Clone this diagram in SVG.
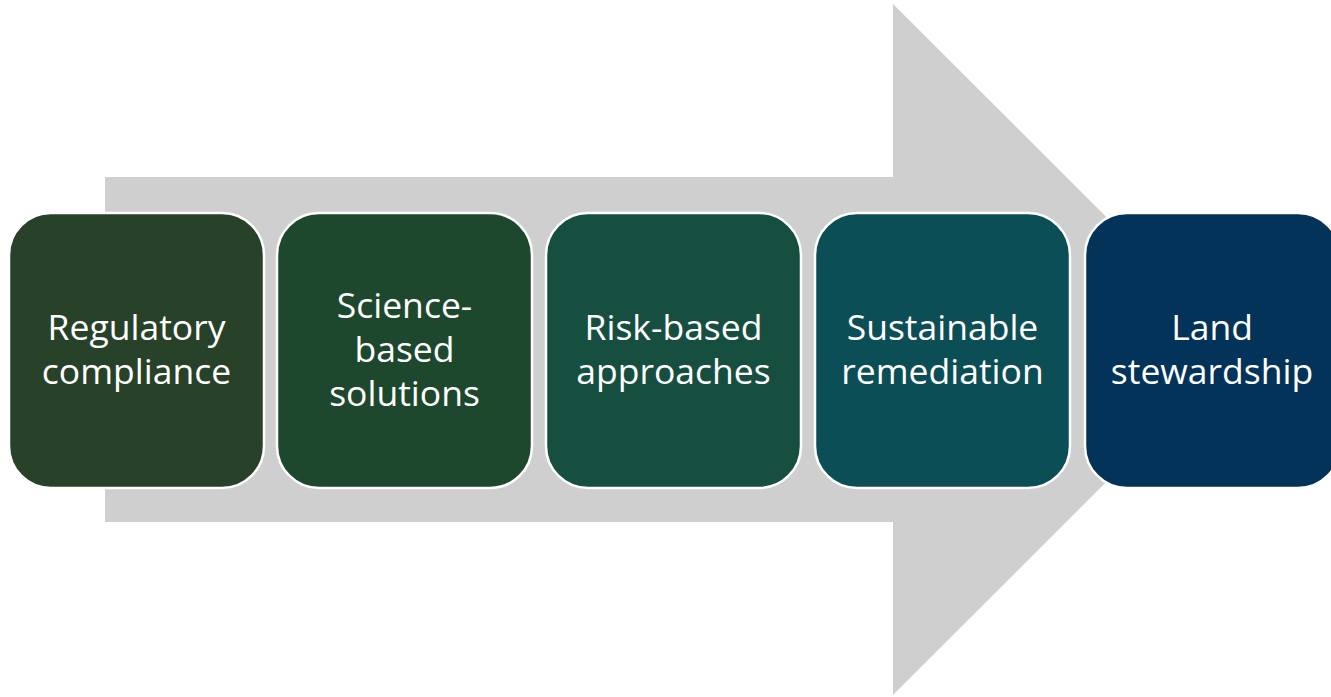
<svg xmlns="http://www.w3.org/2000/svg" width="1331" height="697" viewBox="0 0 1331 697">
<style>
.box{stroke:#ffffff;stroke-width:2.5}
.lbl{font-family:"Open Sans","Liberation Sans",sans-serif;font-size:35.5px;fill:#ffffff;text-anchor:middle}
</style>
<rect width="1331" height="697" fill="#ffffff"/>
<g id="connectors">
<polygon points="105,177 893,177 893,4 1239,349.5 893,695 893,522 105,522" fill="#cfcfcf"/>
</g>
<g id="node1">
<rect class="box" x="9" y="213" width="255" height="275" rx="42" fill="#284129"/>
<text class="lbl" x="136.5" y="340">Regulatory</text>
<text class="lbl" x="136.5" y="384">compliance</text>
</g>
<g id="node2">
<rect class="box" x="277" y="213" width="255" height="275" rx="42" fill="#1e482d"/>
<text class="lbl" x="404.5" y="318">Science-</text>
<text class="lbl" x="404.5" y="362">based</text>
<text class="lbl" x="404.5" y="406">solutions</text>
</g>
<g id="node3">
<rect class="box" x="546" y="213" width="255" height="275" rx="42" fill="#164f3f"/>
<text class="lbl" x="673.5" y="340">Risk-based</text>
<text class="lbl" x="673.5" y="384">approaches</text>
</g>
<g id="node4">
<rect class="box" x="815" y="213" width="255" height="275" rx="42" fill="#0c4e55"/>
<text class="lbl" x="942.5" y="340">Sustainable</text>
<text class="lbl" x="942.5" y="384">remediation</text>
</g>
<g id="node5">
<rect class="box" x="1085" y="213" width="255" height="275" rx="42" fill="#033358"/>
<text class="lbl" x="1212" y="340">Land</text>
<text class="lbl" x="1212" y="384">stewardship</text>
</g>
</svg>
